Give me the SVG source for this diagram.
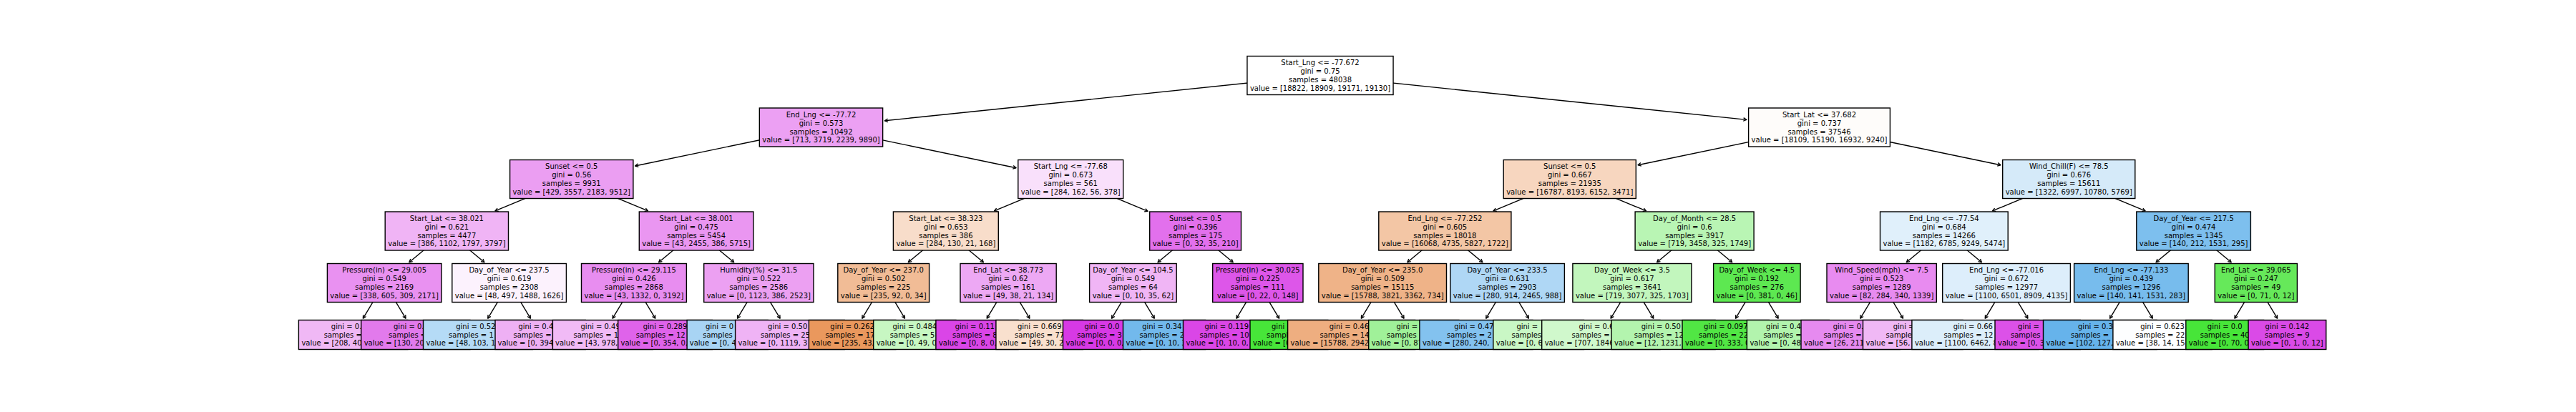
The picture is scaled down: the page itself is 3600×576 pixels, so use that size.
<svg xmlns="http://www.w3.org/2000/svg" width="3600" height="576" viewBox="0 0 3600 576">
<defs>
<style>
.b{stroke:#000;stroke-width:1.4}
.t{font-family:"DejaVu Sans","Liberation Sans",sans-serif;font-size:10px;fill:#000}
.m{text-anchor:middle}
#connectors line{stroke:#000;stroke-width:1.4;fill:none;marker-end:url(#ah)}
</style>
<marker id="ah" markerUnits="userSpaceOnUse" markerWidth="10" markerHeight="10" viewBox="-6 -5 8 10" refX="0" refY="0" orient="auto">
<path d="M-4.4,-2.3 L0,0 L-4.4,2.3" fill="none" stroke="#000" stroke-width="1.3" stroke-linejoin="round"/>
</marker>
</defs>
<rect x="0" y="0" width="3600" height="576" fill="#fff"/>
<g id="connectors">
<line x1="1845" y1="105.5" x2="1236.4" y2="168.8"/>
<line x1="1845" y1="105.5" x2="2440.8" y2="167.4"/>
<line x1="1147.5" y1="178" x2="887.6" y2="232"/>
<line x1="1147.5" y1="178" x2="1420.1" y2="234.7"/>
<line x1="2542.5" y1="178" x2="2289" y2="230.7"/>
<line x1="2542.5" y1="178" x2="2796" y2="230.7"/>
<line x1="798.75" y1="250.5" x2="691.9" y2="294.9"/>
<line x1="798.75" y1="250.5" x2="905.6" y2="294.9"/>
<line x1="1496.25" y1="250.5" x2="1389.4" y2="294.9"/>
<line x1="1496.25" y1="250.5" x2="1604.1" y2="295.4"/>
<line x1="2193.75" y1="250.5" x2="2086.9" y2="294.9"/>
<line x1="2193.75" y1="250.5" x2="2300.6" y2="294.9"/>
<line x1="2891.25" y1="250.5" x2="2784.4" y2="294.9"/>
<line x1="2891.25" y1="250.5" x2="2998.1" y2="294.9"/>
<line x1="624.38" y1="323" x2="571.81" y2="366.7"/>
<line x1="624.38" y1="323" x2="676.94" y2="366.7"/>
<line x1="973.13" y1="323" x2="920.56" y2="366.7"/>
<line x1="973.13" y1="323" x2="1025.69" y2="366.7"/>
<line x1="1321.88" y1="323" x2="1269.31" y2="366.7"/>
<line x1="1321.88" y1="323" x2="1374.44" y2="366.7"/>
<line x1="1670.63" y1="323" x2="1618.06" y2="366.7"/>
<line x1="1670.63" y1="323" x2="1723.19" y2="366.7"/>
<line x1="2019.38" y1="323" x2="1966.81" y2="366.7"/>
<line x1="2019.38" y1="323" x2="2071.94" y2="366.7"/>
<line x1="2368.13" y1="323" x2="2315.56" y2="366.7"/>
<line x1="2368.13" y1="323" x2="2420.69" y2="366.7"/>
<line x1="2716.88" y1="323" x2="2664.31" y2="366.7"/>
<line x1="2716.88" y1="323" x2="2769.44" y2="366.7"/>
<line x1="3065.63" y1="323" x2="3013.06" y2="366.7"/>
<line x1="3065.63" y1="323" x2="3118.19" y2="366.7"/>
<line x1="537.19" y1="395.5" x2="507.36" y2="445.1"/>
<line x1="537.19" y1="395.5" x2="567.01" y2="445.1"/>
<line x1="711.56" y1="395.5" x2="681.74" y2="445.1"/>
<line x1="711.56" y1="395.5" x2="741.39" y2="445.1"/>
<line x1="885.94" y1="395.5" x2="856.11" y2="445.1"/>
<line x1="885.94" y1="395.5" x2="915.76" y2="445.1"/>
<line x1="1060.31" y1="395.5" x2="1030.49" y2="445.1"/>
<line x1="1060.31" y1="395.5" x2="1090.14" y2="445.1"/>
<line x1="1234.69" y1="395.5" x2="1204.86" y2="445.1"/>
<line x1="1234.69" y1="395.5" x2="1264.51" y2="445.1"/>
<line x1="1409.06" y1="395.5" x2="1379.24" y2="445.1"/>
<line x1="1409.06" y1="395.5" x2="1438.89" y2="445.1"/>
<line x1="1583.44" y1="395.5" x2="1553.61" y2="445.1"/>
<line x1="1583.44" y1="395.5" x2="1613.26" y2="445.1"/>
<line x1="1757.81" y1="395.5" x2="1727.99" y2="445.1"/>
<line x1="1757.81" y1="395.5" x2="1787.64" y2="445.1"/>
<line x1="1932.19" y1="395.5" x2="1902.36" y2="445.1"/>
<line x1="1932.19" y1="395.5" x2="1962.01" y2="445.1"/>
<line x1="2106.56" y1="395.5" x2="2076.74" y2="445.1"/>
<line x1="2106.56" y1="395.5" x2="2136.39" y2="445.1"/>
<line x1="2280.94" y1="395.5" x2="2251.11" y2="445.1"/>
<line x1="2280.94" y1="395.5" x2="2310.76" y2="445.1"/>
<line x1="2455.31" y1="395.5" x2="2425.49" y2="445.1"/>
<line x1="2455.31" y1="395.5" x2="2485.14" y2="445.1"/>
<line x1="2629.69" y1="395.5" x2="2599.86" y2="445.1"/>
<line x1="2629.69" y1="395.5" x2="2659.51" y2="445.1"/>
<line x1="2804.06" y1="395.5" x2="2774.24" y2="445.1"/>
<line x1="2804.06" y1="395.5" x2="2833.89" y2="445.1"/>
<line x1="2978.44" y1="395.5" x2="2948.61" y2="445.1"/>
<line x1="2978.44" y1="395.5" x2="3008.26" y2="445.1"/>
<line x1="3152.81" y1="395.5" x2="3122.99" y2="445.1"/>
<line x1="3152.81" y1="395.5" x2="3182.64" y2="445.1"/>
</g>

<!-- leaves (drawn left to right so each covers the previous) -->
<g id="leaf0"><rect class="b" x="417.4" y="447.5" width="152.4" height="41" fill="#f0b8f5"/><text class="t"><tspan x="462.8" y="459.6">gini = 0.</tspan><tspan x="452.7" y="471.5">samples =</tspan><tspan x="421.4" y="483.4">value = [208, 40</tspan></text></g>
<g id="leaf1"><rect class="b" x="504.7" y="447.5" width="152.2" height="41" fill="#e27aec"/><text class="t"><tspan x="550" y="459.6">gini = 0.</tspan><tspan x="543.1" y="471.5">samples =</tspan><tspan x="508.7" y="483.4">value = [130, 20</tspan></text></g>
<g id="leaf2"><rect class="b" x="591.5" y="447.5" width="152.9" height="41" fill="#b5dbf6"/><text class="t"><tspan x="637.2" y="459.6">gini = 0.52</tspan><tspan x="627.1" y="471.5">samples = 1</tspan><tspan x="595.5" y="483.4">value = [48, 103, 1</tspan></text></g>
<g id="leaf3"><rect class="b" x="692" y="447.5" width="126.3" height="41" fill="#eeb0f4"/><text class="t"><tspan x="724.4" y="459.6">gini = 0.4</tspan><tspan x="717.5" y="471.5">samples =</tspan><tspan x="695.5" y="483.4">value = [0, 394</tspan></text></g>
<g id="leaf4"><rect class="b" x="772.4" y="447.5" width="139.9" height="41" fill="#f1baf6"/><text class="t"><tspan x="811.5" y="459.6">gini = 0.49</tspan><tspan x="801.5" y="471.5">samples = 1</tspan><tspan x="776" y="483.4">value = [43, 978,</tspan></text></g>
<g id="leaf5"><rect class="b" x="863.7" y="447.5" width="131.7" height="41" fill="#df63ea"/><text class="t"><tspan x="898.7" y="459.6">gini = 0.289</tspan><tspan x="888.7" y="471.5">samples = 12</tspan><tspan x="867.5" y="483.4">value = [0, 354, 0,</tspan></text></g>
<g id="leaf6"><rect class="b" x="960.1" y="447.5" width="113.2" height="41" fill="#a8d4f4"/><text class="t"><tspan x="985.9" y="459.6">gini = 0</tspan><tspan x="982.2" y="471.5">samples</tspan><tspan x="963.8" y="483.4">value = [0, 4</tspan></text></g>
<g id="leaf7"><rect class="b" x="1027.6" y="447.5" width="152.6" height="41" fill="#efb3f5"/><text class="t"><tspan x="1073.1" y="459.6">gini = 0.50</tspan><tspan x="1063" y="471.5">samples = 25</tspan><tspan x="1031.6" y="483.4">value = [0, 1119, 3</tspan></text></g>
<g id="leaf8"><rect class="b" x="1130.4" y="447.5" width="121.4" height="41" fill="#ea985d"/><text class="t"><tspan x="1160.3" y="459.6">gini = 0.262</tspan><tspan x="1153.4" y="471.5">samples = 17</tspan><tspan x="1134.4" y="483.4">value = [235, 43,</tspan></text></g>
<g id="leaf9"><rect class="b" x="1220.7" y="447.5" width="115.2" height="41" fill="#c7f7c2"/><text class="t"><tspan x="1247.5" y="459.6">gini = 0.484</tspan><tspan x="1243.8" y="471.5">samples = 5</tspan><tspan x="1224.7" y="483.4">value = [0, 49, 0</tspan></text></g>
<g id="leaf10"><rect class="b" x="1307.9" y="447.5" width="115.1" height="41" fill="#da45e7"/><text class="t"><tspan x="1334.7" y="459.6">gini = 0.11</tspan><tspan x="1331" y="471.5">samples = 8</tspan><tspan x="1311.9" y="483.4">value = [0, 8, 0,</tspan></text></g>
<g id="leaf11"><rect class="b" x="1391.9" y="447.5" width="121.5" height="41" fill="#f9e0ce"/><text class="t"><tspan x="1421.9" y="459.6">gini = 0.669</tspan><tspan x="1418.1" y="471.5">samples = 77</tspan><tspan x="1395.9" y="483.4">value = [49, 30, 2</tspan></text></g>
<g id="leaf12"><rect class="b" x="1485.5" y="447.5" width="108.7" height="41" fill="#d739e5"/><text class="t"><tspan x="1515.4" y="459.6">gini = 0.0</tspan><tspan x="1505.3" y="471.5">samples = 3</tspan><tspan x="1489.5" y="483.4">value = [0, 0, 0,</tspan></text></g>
<g id="leaf13"><rect class="b" x="1569.5" y="447.5" width="115.1" height="41" fill="#72b9ec"/><text class="t"><tspan x="1596.2" y="459.6">gini = 0.34</tspan><tspan x="1592.5" y="471.5">samples = 2</tspan><tspan x="1573.5" y="483.4">value = [0, 10, 3</tspan></text></g>
<g id="leaf14"><rect class="b" x="1653.5" y="447.5" width="121.4" height="41" fill="#da46e7"/><text class="t"><tspan x="1683.4" y="459.6">gini = 0.119</tspan><tspan x="1676.5" y="471.5">samples = 10</tspan><tspan x="1657.5" y="483.4">value = [0, 10, 0,</tspan></text></g>
<g id="leaf15"><rect class="b" x="1747" y="447.5" width="108.8" height="41" fill="#47e539"/><text class="t"><tspan x="1777" y="459.6">gini</tspan><tspan x="1770.1" y="471.5">sampl</tspan><tspan x="1751" y="483.4">value = [0</tspan></text></g>
<g id="leaf16"><rect class="b" x="1799.6" y="447.5" width="178" height="41" fill="#eeae80"/><text class="t"><tspan x="1857.8" y="459.6">gini = 0.46</tspan><tspan x="1844.5" y="471.5">samples = 14</tspan><tspan x="1803.6" y="483.4">value = [15788, 2942</tspan></text></g>
<g id="leaf17"><rect class="b" x="1912.7" y="447.5" width="126.2" height="41" fill="#a0f199"/><text class="t"><tspan x="1951.4" y="459.6">gini =</tspan><tspan x="1938.1" y="471.5">samples</tspan><tspan x="1916.7" y="483.4">value = [0, 87</tspan></text></g>
<g id="leaf18"><rect class="b" x="1983.9" y="447.5" width="158.1" height="41" fill="#83c2ef"/><text class="t"><tspan x="2032.2" y="459.6">gini = 0.47</tspan><tspan x="2022.1" y="471.5">samples = 2</tspan><tspan x="1987.9" y="483.4">value = [280, 240,</tspan></text></g>
<g id="leaf19"><rect class="b" x="2086.8" y="447.5" width="126.7" height="41" fill="#c9f7c5"/><text class="t"><tspan x="2119.4" y="459.6">gini =</tspan><tspan x="2112.5" y="471.5">samples</tspan><tspan x="2090.8" y="483.4">value = [0, 6</tspan></text></g>
<g id="leaf20"><rect class="b" x="2154.7" y="447.5" width="165.3" height="41" fill="#d0f8cc"/><text class="t"><tspan x="2206.5" y="459.6">gini = 0.6</tspan><tspan x="2196.5" y="471.5">samples =</tspan><tspan x="2158.7" y="483.4">value = [707, 1846</tspan></text></g>
<g id="leaf21"><rect class="b" x="2252" y="447.5" width="145.1" height="41" fill="#b3f4ae"/><text class="t"><tspan x="2293.7" y="459.6">gini = 0.50</tspan><tspan x="2283.7" y="471.5">samples = 12</tspan><tspan x="2256" y="483.4">value = [12, 1231,</tspan></text></g>
<g id="leaf22"><rect class="b" x="2351" y="447.5" width="121.4" height="41" fill="#51e644"/><text class="t"><tspan x="2380.9" y="459.6">gini = 0.097</tspan><tspan x="2374" y="471.5">samples = 22</tspan><tspan x="2355" y="483.4">value = [0, 333, 0</tspan></text></g>
<g id="leaf23"><rect class="b" x="2441.4" y="447.5" width="115" height="41" fill="#b2f4ad"/><text class="t"><tspan x="2468.1" y="459.6">gini = 0.4</tspan><tspan x="2464.4" y="471.5">samples =</tspan><tspan x="2445.4" y="483.4">value = [0, 48</tspan></text></g>
<g id="leaf24"><rect class="b" x="2517" y="447.5" width="138.2" height="41" fill="#e68af0"/><text class="t"><tspan x="2561.7" y="459.6">gini = 0.4</tspan><tspan x="2548.4" y="471.5">samples =</tspan><tspan x="2521" y="483.4">value = [26, 211</tspan></text></g>
<g id="leaf25"><rect class="b" x="2603.5" y="447.5" width="139.6" height="41" fill="#f0b8f5"/><text class="t"><tspan x="2645.7" y="459.6">gini =</tspan><tspan x="2635.6" y="471.5">samples</tspan><tspan x="2607.5" y="483.4">value = [56,</tspan></text></g>
<g id="leaf26"><rect class="b" x="2671.9" y="447.5" width="177.1" height="41" fill="#dceefa"/><text class="t"><tspan x="2729.7" y="459.6">gini = 0.66</tspan><tspan x="2716.4" y="471.5">samples = 12</tspan><tspan x="2675.9" y="483.4">value = [1100, 6462, 8</tspan></text></g>
<g id="leaf27"><rect class="b" x="2788" y="447.5" width="119.3" height="41" fill="#dc51e8"/><text class="t"><tspan x="2820.1" y="459.6">gini =</tspan><tspan x="2810" y="471.5">samples</tspan><tspan x="2792" y="483.4">value = [0, 3</tspan></text></g>
<g id="leaf28"><rect class="b" x="2855.5" y="447.5" width="158.7" height="41" fill="#66b3eb"/><text class="t"><tspan x="2904" y="459.6">gini = 0.3</tspan><tspan x="2894" y="471.5">samples =</tspan><tspan x="2859.5" y="483.4">value = [102, 127,</tspan></text></g>
<g id="leaf29"><rect class="b" x="2952.9" y="447.5" width="138.3" height="41" fill="#fdfeff"/><text class="t"><tspan x="2991.2" y="459.6">gini = 0.623</tspan><tspan x="2984.3" y="471.5">samples = 22</tspan><tspan x="2956.9" y="483.4">value = [38, 14, 15</tspan></text></g>
<g id="leaf30"><rect class="b" x="3054.8" y="447.5" width="108.8" height="41" fill="#47e539"/><text class="t"><tspan x="3084.8" y="459.6">gini = 0.0</tspan><tspan x="3074.7" y="471.5">samples = 40</tspan><tspan x="3058.8" y="483.4">value = [0, 70, 0</tspan></text></g>
<g id="leaf31"><rect class="b" x="3142.06" y="447.5" width="108.7" height="41" fill="#da4ae7"/><text class="t m"><tspan x="3196.41" y="459.6">gini = 0.142</tspan><tspan x="3196.41" y="471.5">samples = 9</tspan><tspan x="3196.41" y="483.4">value = [0, 1, 0, 12]</tspan></text></g>

<!-- depth 4 -->
<g id="d4n0"><rect class="b" x="457.4" y="368.5" width="159.6" height="54" fill="#e991f1"/><text class="t m" y="381.2"><tspan x="537.19">Pressure(in) &lt;= 29.005</tspan><tspan x="537.19" dy="11.9">gini = 0.549</tspan><tspan x="537.19" dy="11.9">samples = 2169</tspan><tspan x="537.19" dy="11.9">value = [338, 605, 309, 2171]</tspan></text></g>
<g id="d4n1"><rect class="b" x="631.8" y="368.5" width="159.6" height="54" fill="#fcf2fd"/><text class="t m" y="381.2"><tspan x="711.56">Day_of_Year &lt;= 237.5</tspan><tspan x="711.56" dy="11.9">gini = 0.619</tspan><tspan x="711.56" dy="11.9">samples = 2308</tspan><tspan x="711.56" dy="11.9">value = [48, 497, 1488, 1626]</tspan></text></g>
<g id="d4n2"><rect class="b" x="812.5" y="368.5" width="146.9" height="54" fill="#e88df0"/><text class="t m" y="381.2"><tspan x="885.94">Pressure(in) &lt;= 29.115</tspan><tspan x="885.94" dy="11.9">gini = 0.426</tspan><tspan x="885.94" dy="11.9">samples = 2868</tspan><tspan x="885.94" dy="11.9">value = [43, 1332, 0, 3192]</tspan></text></g>
<g id="d4n3"><rect class="b" x="983.7" y="368.5" width="153.3" height="54" fill="#eca0f2"/><text class="t m" y="381.2"><tspan x="1060.31">Humidity(%) &lt;= 31.5</tspan><tspan x="1060.31" dy="11.9">gini = 0.522</tspan><tspan x="1060.31" dy="11.9">samples = 2586</tspan><tspan x="1060.31" dy="11.9">value = [0, 1123, 386, 2523]</tspan></text></g>
<g id="d4n4"><rect class="b" x="1170.8" y="368.5" width="127.8" height="54" fill="#f1bc96"/><text class="t m" y="381.2"><tspan x="1234.69">Day_of_Year &lt;= 237.0</tspan><tspan x="1234.69" dy="11.9">gini = 0.502</tspan><tspan x="1234.69" dy="11.9">samples = 225</tspan><tspan x="1234.69" dy="11.9">value = [235, 92, 0, 34]</tspan></text></g>
<g id="d4n5"><rect class="b" x="1342" y="368.5" width="134.2" height="54" fill="#eda8f4"/><text class="t m" y="381.2"><tspan x="1409.06">End_Lat &lt;= 38.773</tspan><tspan x="1409.06" dy="11.9">gini = 0.62</tspan><tspan x="1409.06" dy="11.9">samples = 161</tspan><tspan x="1409.06" dy="11.9">value = [49, 38, 21, 134]</tspan></text></g>
<g id="d4n6"><rect class="b" x="1522.6" y="368.5" width="121.6" height="54" fill="#f0b5f5"/><text class="t m" y="381.2"><tspan x="1583.44">Day_of_Year &lt;= 104.5</tspan><tspan x="1583.44" dy="11.9">gini = 0.549</tspan><tspan x="1583.44" dy="11.9">samples = 64</tspan><tspan x="1583.44" dy="11.9">value = [0, 10, 35, 62]</tspan></text></g>
<g id="d4n7"><rect class="b" x="1694.7" y="368.5" width="126.3" height="54" fill="#dd56e9"/><text class="t m" y="381.2"><tspan x="1757.81">Pressure(in) &lt;= 30.025</tspan><tspan x="1757.81" dy="11.9">gini = 0.225</tspan><tspan x="1757.81" dy="11.9">samples = 111</tspan><tspan x="1757.81" dy="11.9">value = [0, 22, 0, 148]</tspan></text></g>
<g id="d4n8"><rect class="b" x="1842.8" y="368.5" width="178.7" height="54" fill="#efb388"/><text class="t m" y="381.2"><tspan x="1932.19">Day_of_Year &lt;= 235.0</tspan><tspan x="1932.19" dy="11.9">gini = 0.509</tspan><tspan x="1932.19" dy="11.9">samples = 15115</tspan><tspan x="1932.19" dy="11.9">value = [15788, 3821, 3362, 734]</tspan></text></g>
<g id="d4n9"><rect class="b" x="2026.8" y="368.5" width="159.6" height="54" fill="#afd7f5"/><text class="t m" y="381.2"><tspan x="2106.56">Day_of_Year &lt;= 233.5</tspan><tspan x="2106.56" dy="11.9">gini = 0.631</tspan><tspan x="2106.56" dy="11.9">samples = 2903</tspan><tspan x="2106.56" dy="11.9">value = [280, 914, 2465, 988]</tspan></text></g>
<g id="d4n10"><rect class="b" x="2197.9" y="368.5" width="166" height="54" fill="#c2f6bd"/><text class="t m" y="381.2"><tspan x="2280.94">Day_of_Week &lt;= 3.5</tspan><tspan x="2280.94" dy="11.9">gini = 0.617</tspan><tspan x="2280.94" dy="11.9">samples = 3641</tspan><tspan x="2280.94" dy="11.9">value = [719, 3077, 325, 1703]</tspan></text></g>
<g id="d4n11"><rect class="b" x="2394.6" y="368.5" width="121.5" height="54" fill="#5de851"/><text class="t m" y="381.2"><tspan x="2455.31">Day_of_Week &lt;= 4.5</tspan><tspan x="2455.31" dy="11.9">gini = 0.192</tspan><tspan x="2455.31" dy="11.9">samples = 276</tspan><tspan x="2455.31" dy="11.9">value = [0, 381, 0, 46]</tspan></text></g>
<g id="d4n12"><rect class="b" x="2553" y="368.5" width="153.3" height="54" fill="#e88bf0"/><text class="t m" y="381.2"><tspan x="2629.69">Wind_Speed(mph) &lt;= 7.5</tspan><tspan x="2629.69" dy="11.9">gini = 0.523</tspan><tspan x="2629.69" dy="11.9">samples = 1289</tspan><tspan x="2629.69" dy="11.9">value = [82, 284, 340, 1339]</tspan></text></g>
<g id="d4n13"><rect class="b" x="2714.7" y="368.5" width="178.7" height="54" fill="#ddeefb"/><text class="t m" y="381.2"><tspan x="2804.06">End_Lng &lt;= -77.016</tspan><tspan x="2804.06" dy="11.9">gini = 0.672</tspan><tspan x="2804.06" dy="11.9">samples = 12977</tspan><tspan x="2804.06" dy="11.9">value = [1100, 6501, 8909, 4135]</tspan></text></g>
<g id="d4n14"><rect class="b" x="2898.6" y="368.5" width="159.6" height="54" fill="#77bced"/><text class="t m" y="381.2"><tspan x="2978.44">End_Lng &lt;= -77.133</tspan><tspan x="2978.44" dy="11.9">gini = 0.439</tspan><tspan x="2978.44" dy="11.9">samples = 1296</tspan><tspan x="2978.44" dy="11.9">value = [140, 141, 1531, 283]</tspan></text></g>
<g id="d4n15"><rect class="b" x="3095.3" y="368.5" width="115.1" height="54" fill="#66e95a"/><text class="t m" y="381.2"><tspan x="3152.81">End_Lat &lt;= 39.065</tspan><tspan x="3152.81" dy="11.9">gini = 0.247</tspan><tspan x="3152.81" dy="11.9">samples = 49</tspan><tspan x="3152.81" dy="11.9">value = [0, 71, 0, 12]</tspan></text></g>

<!-- depth 3 -->
<g id="d3n0"><rect class="b" x="538.2" y="296" width="172.3" height="54" fill="#f0b4f5"/><text class="t m" y="308.7"><tspan x="624.38">Start_Lat &lt;= 38.021</tspan><tspan x="624.38" dy="11.9">gini = 0.621</tspan><tspan x="624.38" dy="11.9">samples = 4477</tspan><tspan x="624.38" dy="11.9">value = [386, 1102, 1797, 3797]</tspan></text></g>
<g id="d3n1"><rect class="b" x="893.3" y="296" width="159.6" height="54" fill="#ea96f1"/><text class="t m" y="308.7"><tspan x="973.13">Start_Lat &lt;= 38.001</tspan><tspan x="973.13" dy="11.9">gini = 0.475</tspan><tspan x="973.13" dy="11.9">samples = 5454</tspan><tspan x="973.13" dy="11.9">value = [43, 2455, 386, 5715]</tspan></text></g>
<g id="d3n2"><rect class="b" x="1248.4" y="296" width="146.9" height="54" fill="#f8ddca"/><text class="t m" y="308.7"><tspan x="1321.88">Start_Lat &lt;= 38.323</tspan><tspan x="1321.88" dy="11.9">gini = 0.653</tspan><tspan x="1321.88" dy="11.9">samples = 386</tspan><tspan x="1321.88" dy="11.9">value = [284, 130, 21, 168]</tspan></text></g>
<g id="d3n3"><rect class="b" x="1606.7" y="296" width="127.8" height="54" fill="#e270ec"/><text class="t m" y="308.7"><tspan x="1670.63">Sunset &lt;= 0.5</tspan><tspan x="1670.63" dy="11.9">gini = 0.396</tspan><tspan x="1670.63" dy="11.9">samples = 175</tspan><tspan x="1670.63" dy="11.9">value = [0, 32, 35, 210]</tspan></text></g>
<g id="d3n4"><rect class="b" x="1926.8" y="296" width="185.1" height="54" fill="#f3c6a5"/><text class="t m" y="308.7"><tspan x="2019.38">End_Lng &lt;= -77.252</tspan><tspan x="2019.38" dy="11.9">gini = 0.605</tspan><tspan x="2019.38" dy="11.9">samples = 18018</tspan><tspan x="2019.38" dy="11.9">value = [16068, 4735, 5827, 1722]</tspan></text></g>
<g id="d3n5"><rect class="b" x="2285.1" y="296" width="166" height="54" fill="#b9f5b4"/><text class="t m" y="308.7"><tspan x="2368.13">Day_of_Month &lt;= 28.5</tspan><tspan x="2368.13" dy="11.9">gini = 0.6</tspan><tspan x="2368.13" dy="11.9">samples = 3917</tspan><tspan x="2368.13" dy="11.9">value = [719, 3458, 325, 1749]</tspan></text></g>
<g id="d3n6"><rect class="b" x="2627.5" y="296" width="178.7" height="54" fill="#e0f0fb"/><text class="t m" y="308.7"><tspan x="2716.88">End_Lng &lt;= -77.54</tspan><tspan x="2716.88" dy="11.9">gini = 0.684</tspan><tspan x="2716.88" dy="11.9">samples = 14266</tspan><tspan x="2716.88" dy="11.9">value = [1182, 6785, 9249, 5474]</tspan></text></g>
<g id="d3n7"><rect class="b" x="2985.8" y="296" width="159.6" height="54" fill="#7dbfee"/><text class="t m" y="308.7"><tspan x="3065.63">Day_of_Year &lt;= 217.5</tspan><tspan x="3065.63" dy="11.9">gini = 0.474</tspan><tspan x="3065.63" dy="11.9">samples = 1345</tspan><tspan x="3065.63" dy="11.9">value = [140, 212, 1531, 295]</tspan></text></g>

<!-- depth 2 -->
<g id="d2n0"><rect class="b" x="712.6" y="223.5" width="172.3" height="54" fill="#eb9ef2"/><text class="t m" y="236.2"><tspan x="798.75">Sunset &lt;= 0.5</tspan><tspan x="798.75" dy="11.9">gini = 0.56</tspan><tspan x="798.75" dy="11.9">samples = 9931</tspan><tspan x="798.75" dy="11.9">value = [429, 3557, 2183, 9512]</tspan></text></g>
<g id="d2n1"><rect class="b" x="1422.8" y="223.5" width="146.9" height="54" fill="#f9e0fb"/><text class="t m" y="236.2"><tspan x="1496.25">Start_Lng &lt;= -77.68</tspan><tspan x="1496.25" dy="11.9">gini = 0.673</tspan><tspan x="1496.25" dy="11.9">samples = 561</tspan><tspan x="1496.25" dy="11.9">value = [284, 162, 56, 378]</tspan></text></g>
<g id="d2n2"><rect class="b" x="2101.2" y="223.5" width="185.1" height="54" fill="#f7d6bf"/><text class="t m" y="236.2"><tspan x="2193.75">Sunset &lt;= 0.5</tspan><tspan x="2193.75" dy="11.9">gini = 0.667</tspan><tspan x="2193.75" dy="11.9">samples = 21935</tspan><tspan x="2193.75" dy="11.9">value = [16787, 8193, 6152, 3471]</tspan></text></g>
<g id="d2n3"><rect class="b" x="2798.7" y="223.5" width="185.1" height="54" fill="#d5eaf9"/><text class="t m" y="236.2"><tspan x="2891.25">Wind_Chill(F) &lt;= 78.5</tspan><tspan x="2891.25" dy="11.9">gini = 0.676</tspan><tspan x="2891.25" dy="11.9">samples = 15611</tspan><tspan x="2891.25" dy="11.9">value = [1322, 6997, 10780, 5769]</tspan></text></g>

<!-- depth 1 -->
<g id="d1n0"><rect class="b" x="1061.35" y="151" width="172.3" height="54" fill="#eca0f3"/><text class="t m" y="163.7"><tspan x="1147.5">End_Lng &lt;= -77.72</tspan><tspan x="1147.5" dy="11.9">gini = 0.573</tspan><tspan x="1147.5" dy="11.9">samples = 10492</tspan><tspan x="1147.5" dy="11.9">value = [713, 3719, 2239, 9890]</tspan></text></g>
<g id="d1n1"><rect class="b" x="2443.6" y="151" width="197.8" height="54" fill="#fefcfa"/><text class="t m" y="163.7"><tspan x="2542.5">Start_Lat &lt;= 37.682</tspan><tspan x="2542.5" dy="11.9">gini = 0.737</tspan><tspan x="2542.5" dy="11.9">samples = 37546</tspan><tspan x="2542.5" dy="11.9">value = [18109, 15190, 16932, 9240]</tspan></text></g>

<!-- root -->
<g id="root"><rect class="b" x="1742.95" y="78.5" width="204.1" height="54" fill="#ffffff"/><text class="t m" y="91.2"><tspan x="1845">Start_Lng &lt;= -77.672</tspan><tspan x="1845" dy="11.9">gini = 0.75</tspan><tspan x="1845" dy="11.9">samples = 48038</tspan><tspan x="1845" dy="11.9">value = [18822, 18909, 19171, 19130]</tspan></text></g>
</svg>
